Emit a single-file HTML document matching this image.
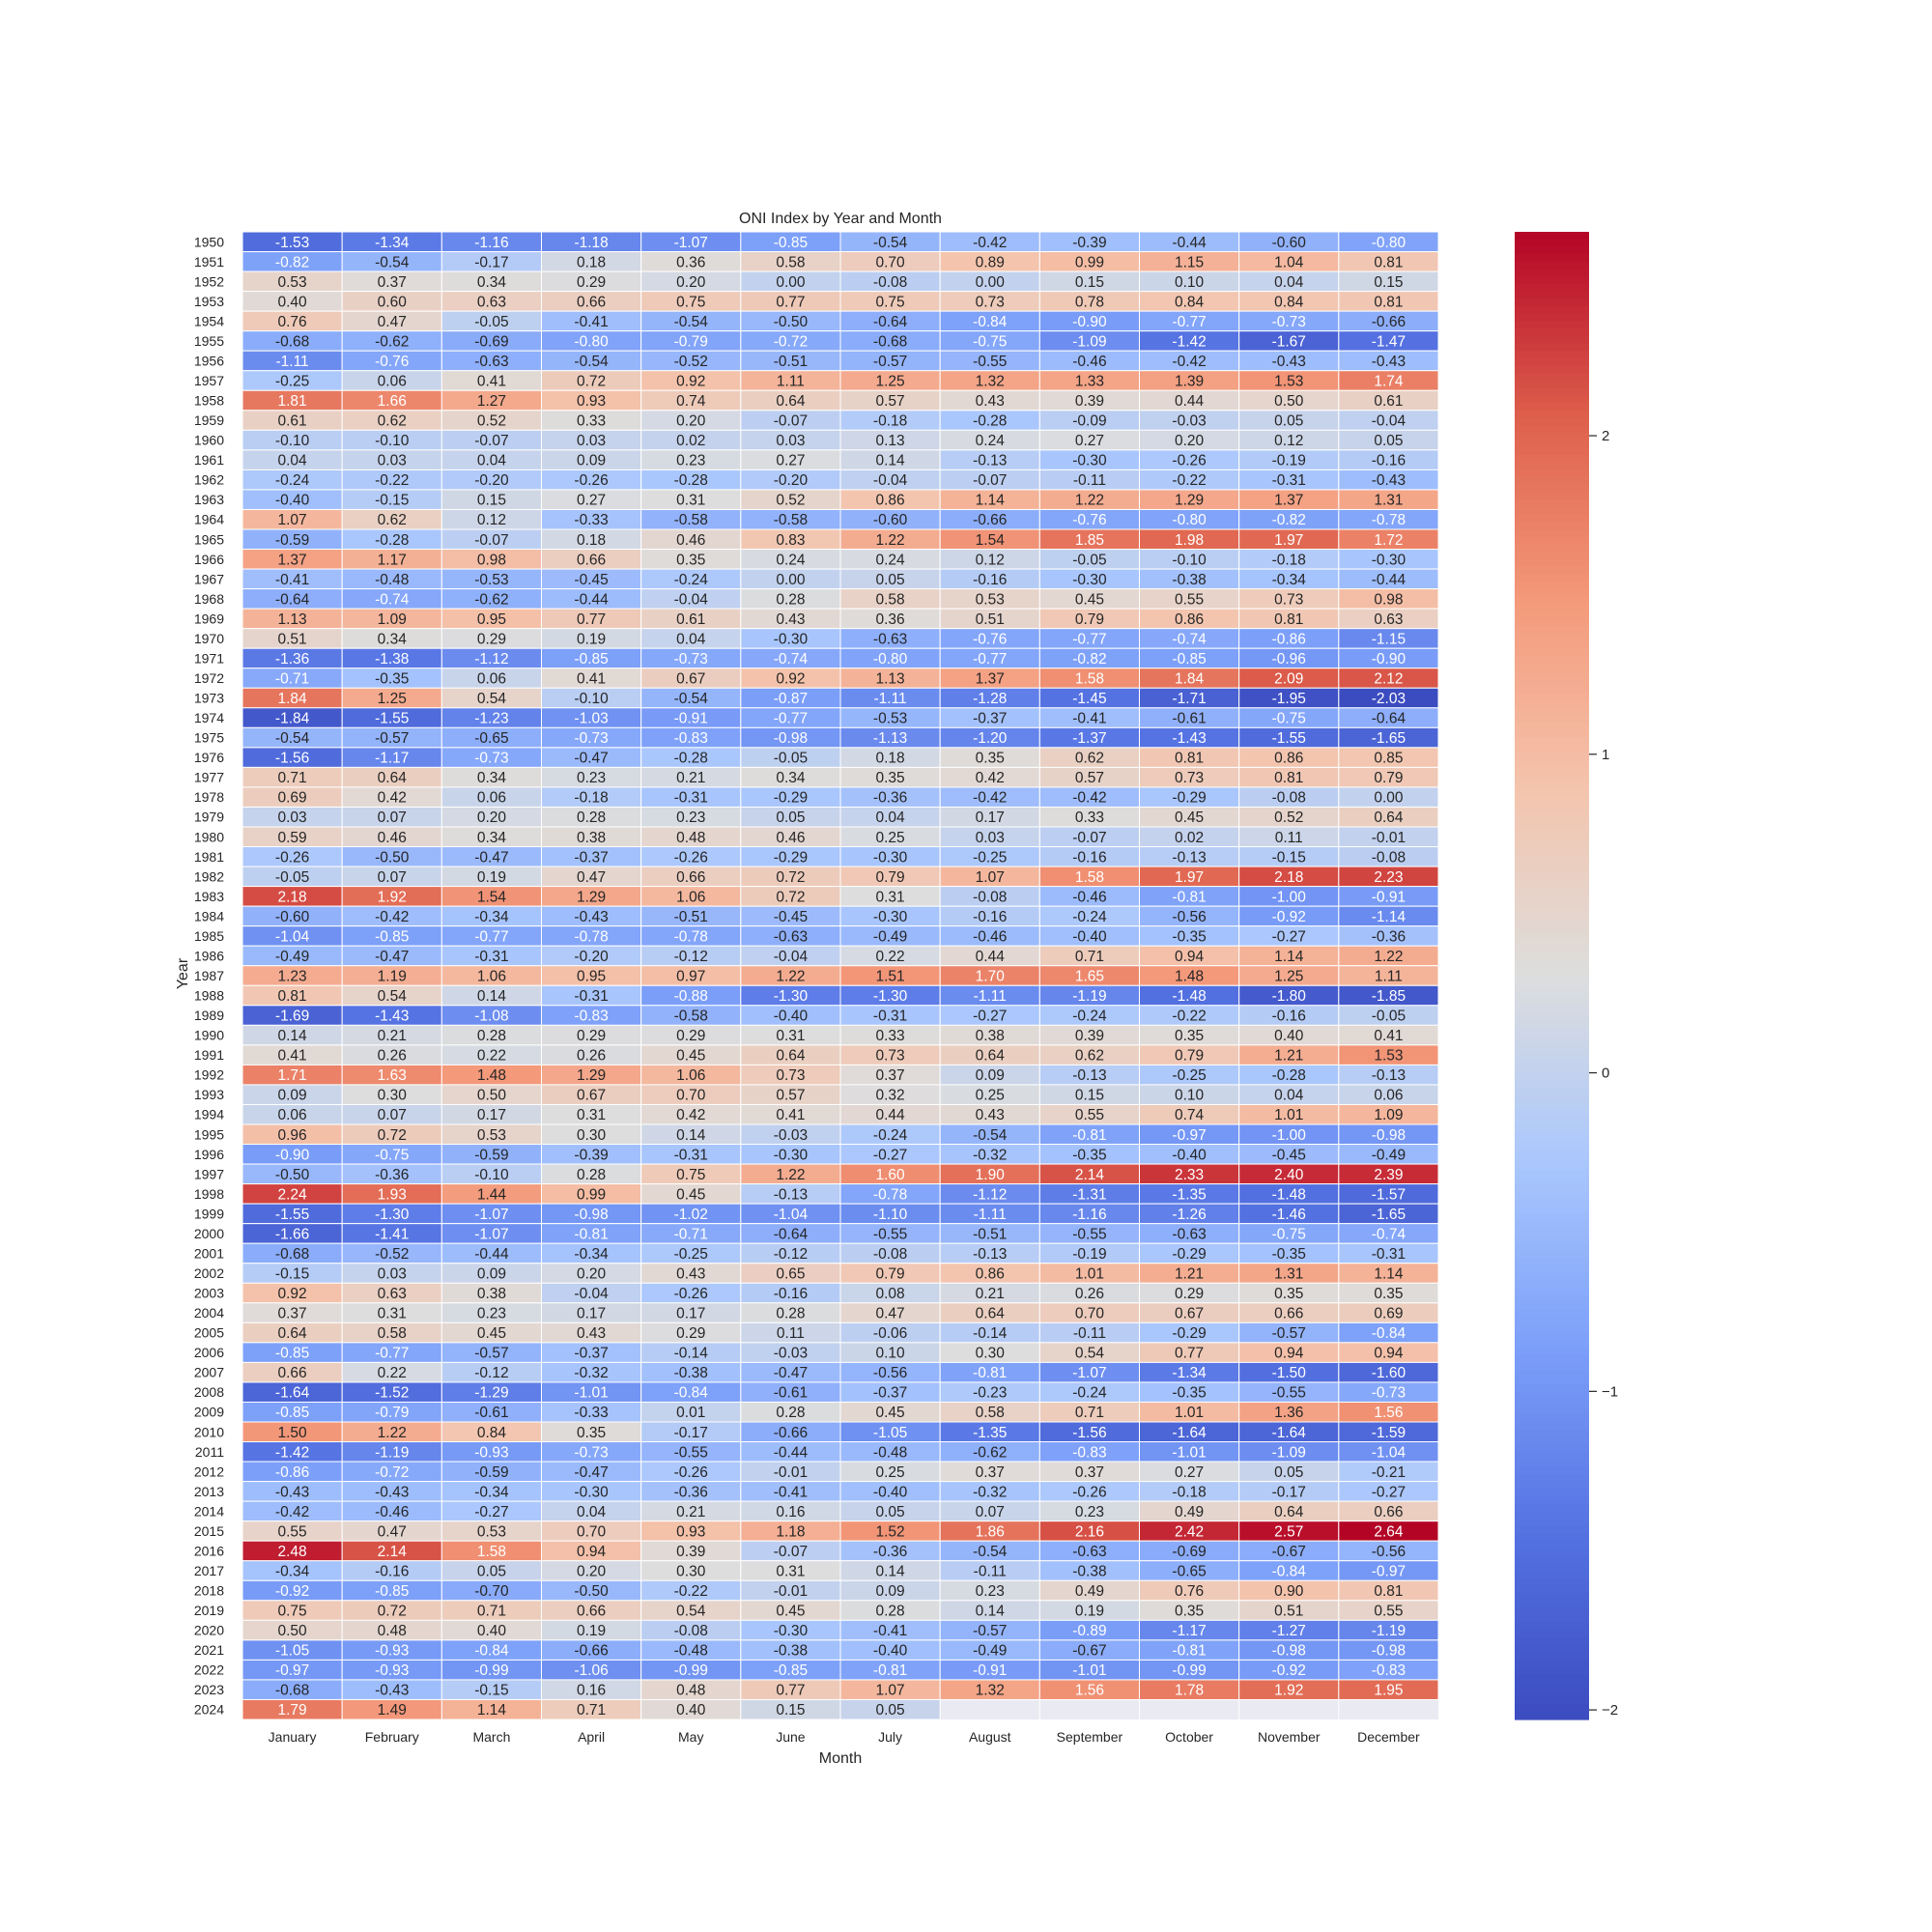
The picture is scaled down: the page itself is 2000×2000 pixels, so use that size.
<!DOCTYPE html>
<html><head><meta charset="utf-8"><style>
html,body{margin:0;padding:0;background:#fff;}
svg{display:block;font-family:"Liberation Sans",Arial,sans-serif;}
</style></head><body>
<svg id="chart" width="2000" height="2000" viewBox="0 0 2000 2000" xmlns="http://www.w3.org/2000/svg">
<rect width="2000" height="2000" fill="#fff"/>
<text x="870" y="231" font-size="16" text-anchor="middle" fill="#262626">ONI Index by Year and Month</text>
<text x="870" y="1825" font-size="16" text-anchor="middle" fill="#262626">Month</text>
<text x="194" y="1008" font-size="16" text-anchor="middle" fill="#262626" transform="rotate(-90 194 1008)">Year</text>
<g id="cells"></g>
<g id="ylabels"></g>
<g id="xlabels"></g>
<g id="cbar"></g>
</svg>
<script>
const months = ["January","February","March","April","May","June","July","August","September","October","November","December"];
const startYear = 1950;
const oni = [
[-1.53,-1.34,-1.16,-1.18,-1.07,-0.85,-0.54,-0.42,-0.39,-0.44,-0.60,-0.80],
[-0.82,-0.54,-0.17,0.18,0.36,0.58,0.70,0.89,0.99,1.15,1.04,0.81],
[0.53,0.37,0.34,0.29,0.20,0.00,-0.08,0.00,0.15,0.10,0.04,0.15],
[0.40,0.60,0.63,0.66,0.75,0.77,0.75,0.73,0.78,0.84,0.84,0.81],
[0.76,0.47,-0.05,-0.41,-0.54,-0.50,-0.64,-0.84,-0.90,-0.77,-0.73,-0.66],
[-0.68,-0.62,-0.69,-0.80,-0.79,-0.72,-0.68,-0.75,-1.09,-1.42,-1.67,-1.47],
[-1.11,-0.76,-0.63,-0.54,-0.52,-0.51,-0.57,-0.55,-0.46,-0.42,-0.43,-0.43],
[-0.25,0.06,0.41,0.72,0.92,1.11,1.25,1.32,1.33,1.39,1.53,1.74],
[1.81,1.66,1.27,0.93,0.74,0.64,0.57,0.43,0.39,0.44,0.50,0.61],
[0.61,0.62,0.52,0.33,0.20,-0.07,-0.18,-0.28,-0.09,-0.03,0.05,-0.04],
[-0.10,-0.10,-0.07,0.03,0.02,0.03,0.13,0.24,0.27,0.20,0.12,0.05],
[0.04,0.03,0.04,0.09,0.23,0.27,0.14,-0.13,-0.30,-0.26,-0.19,-0.16],
[-0.24,-0.22,-0.20,-0.26,-0.28,-0.20,-0.04,-0.07,-0.11,-0.22,-0.31,-0.43],
[-0.40,-0.15,0.15,0.27,0.31,0.52,0.86,1.14,1.22,1.29,1.37,1.31],
[1.07,0.62,0.12,-0.33,-0.58,-0.58,-0.60,-0.66,-0.76,-0.80,-0.82,-0.78],
[-0.59,-0.28,-0.07,0.18,0.46,0.83,1.22,1.54,1.85,1.98,1.97,1.72],
[1.37,1.17,0.98,0.66,0.35,0.24,0.24,0.12,-0.05,-0.10,-0.18,-0.30],
[-0.41,-0.48,-0.53,-0.45,-0.24,0.00,0.05,-0.16,-0.30,-0.38,-0.34,-0.44],
[-0.64,-0.74,-0.62,-0.44,-0.04,0.28,0.58,0.53,0.45,0.55,0.73,0.98],
[1.13,1.09,0.95,0.77,0.61,0.43,0.36,0.51,0.79,0.86,0.81,0.63],
[0.51,0.34,0.29,0.19,0.04,-0.30,-0.63,-0.76,-0.77,-0.74,-0.86,-1.15],
[-1.36,-1.38,-1.12,-0.85,-0.73,-0.74,-0.80,-0.77,-0.82,-0.85,-0.96,-0.90],
[-0.71,-0.35,0.06,0.41,0.67,0.92,1.13,1.37,1.58,1.84,2.09,2.12],
[1.84,1.25,0.54,-0.10,-0.54,-0.87,-1.11,-1.28,-1.45,-1.71,-1.95,-2.03],
[-1.84,-1.55,-1.23,-1.03,-0.91,-0.77,-0.53,-0.37,-0.41,-0.61,-0.75,-0.64],
[-0.54,-0.57,-0.65,-0.73,-0.83,-0.98,-1.13,-1.20,-1.37,-1.43,-1.55,-1.65],
[-1.56,-1.17,-0.73,-0.47,-0.28,-0.05,0.18,0.35,0.62,0.81,0.86,0.85],
[0.71,0.64,0.34,0.23,0.21,0.34,0.35,0.42,0.57,0.73,0.81,0.79],
[0.69,0.42,0.06,-0.18,-0.31,-0.29,-0.36,-0.42,-0.42,-0.29,-0.08,0.00],
[0.03,0.07,0.20,0.28,0.23,0.05,0.04,0.17,0.33,0.45,0.52,0.64],
[0.59,0.46,0.34,0.38,0.48,0.46,0.25,0.03,-0.07,0.02,0.11,-0.01],
[-0.26,-0.50,-0.47,-0.37,-0.26,-0.29,-0.30,-0.25,-0.16,-0.13,-0.15,-0.08],
[-0.05,0.07,0.19,0.47,0.66,0.72,0.79,1.07,1.58,1.97,2.18,2.23],
[2.18,1.92,1.54,1.29,1.06,0.72,0.31,-0.08,-0.46,-0.81,-1.00,-0.91],
[-0.60,-0.42,-0.34,-0.43,-0.51,-0.45,-0.30,-0.16,-0.24,-0.56,-0.92,-1.14],
[-1.04,-0.85,-0.77,-0.78,-0.78,-0.63,-0.49,-0.46,-0.40,-0.35,-0.27,-0.36],
[-0.49,-0.47,-0.31,-0.20,-0.12,-0.04,0.22,0.44,0.71,0.94,1.14,1.22],
[1.23,1.19,1.06,0.95,0.97,1.22,1.51,1.70,1.65,1.48,1.25,1.11],
[0.81,0.54,0.14,-0.31,-0.88,-1.30,-1.30,-1.11,-1.19,-1.48,-1.80,-1.85],
[-1.69,-1.43,-1.08,-0.83,-0.58,-0.40,-0.31,-0.27,-0.24,-0.22,-0.16,-0.05],
[0.14,0.21,0.28,0.29,0.29,0.31,0.33,0.38,0.39,0.35,0.40,0.41],
[0.41,0.26,0.22,0.26,0.45,0.64,0.73,0.64,0.62,0.79,1.21,1.53],
[1.71,1.63,1.48,1.29,1.06,0.73,0.37,0.09,-0.13,-0.25,-0.28,-0.13],
[0.09,0.30,0.50,0.67,0.70,0.57,0.32,0.25,0.15,0.10,0.04,0.06],
[0.06,0.07,0.17,0.31,0.42,0.41,0.44,0.43,0.55,0.74,1.01,1.09],
[0.96,0.72,0.53,0.30,0.14,-0.03,-0.24,-0.54,-0.81,-0.97,-1.00,-0.98],
[-0.90,-0.75,-0.59,-0.39,-0.31,-0.30,-0.27,-0.32,-0.35,-0.40,-0.45,-0.49],
[-0.50,-0.36,-0.10,0.28,0.75,1.22,1.60,1.90,2.14,2.33,2.40,2.39],
[2.24,1.93,1.44,0.99,0.45,-0.13,-0.78,-1.12,-1.31,-1.35,-1.48,-1.57],
[-1.55,-1.30,-1.07,-0.98,-1.02,-1.04,-1.10,-1.11,-1.16,-1.26,-1.46,-1.65],
[-1.66,-1.41,-1.07,-0.81,-0.71,-0.64,-0.55,-0.51,-0.55,-0.63,-0.75,-0.74],
[-0.68,-0.52,-0.44,-0.34,-0.25,-0.12,-0.08,-0.13,-0.19,-0.29,-0.35,-0.31],
[-0.15,0.03,0.09,0.20,0.43,0.65,0.79,0.86,1.01,1.21,1.31,1.14],
[0.92,0.63,0.38,-0.04,-0.26,-0.16,0.08,0.21,0.26,0.29,0.35,0.35],
[0.37,0.31,0.23,0.17,0.17,0.28,0.47,0.64,0.70,0.67,0.66,0.69],
[0.64,0.58,0.45,0.43,0.29,0.11,-0.06,-0.14,-0.11,-0.29,-0.57,-0.84],
[-0.85,-0.77,-0.57,-0.37,-0.14,-0.03,0.10,0.30,0.54,0.77,0.94,0.94],
[0.66,0.22,-0.12,-0.32,-0.38,-0.47,-0.56,-0.81,-1.07,-1.34,-1.50,-1.60],
[-1.64,-1.52,-1.29,-1.01,-0.84,-0.61,-0.37,-0.23,-0.24,-0.35,-0.55,-0.73],
[-0.85,-0.79,-0.61,-0.33,0.01,0.28,0.45,0.58,0.71,1.01,1.36,1.56],
[1.50,1.22,0.84,0.35,-0.17,-0.66,-1.05,-1.35,-1.56,-1.64,-1.64,-1.59],
[-1.42,-1.19,-0.93,-0.73,-0.55,-0.44,-0.48,-0.62,-0.83,-1.01,-1.09,-1.04],
[-0.86,-0.72,-0.59,-0.47,-0.26,-0.01,0.25,0.37,0.37,0.27,0.05,-0.21],
[-0.43,-0.43,-0.34,-0.30,-0.36,-0.41,-0.40,-0.32,-0.26,-0.18,-0.17,-0.27],
[-0.42,-0.46,-0.27,0.04,0.21,0.16,0.05,0.07,0.23,0.49,0.64,0.66],
[0.55,0.47,0.53,0.70,0.93,1.18,1.52,1.86,2.16,2.42,2.57,2.64],
[2.48,2.14,1.58,0.94,0.39,-0.07,-0.36,-0.54,-0.63,-0.69,-0.67,-0.56],
[-0.34,-0.16,0.05,0.20,0.30,0.31,0.14,-0.11,-0.38,-0.65,-0.84,-0.97],
[-0.92,-0.85,-0.70,-0.50,-0.22,-0.01,0.09,0.23,0.49,0.76,0.90,0.81],
[0.75,0.72,0.71,0.66,0.54,0.45,0.28,0.14,0.19,0.35,0.51,0.55],
[0.50,0.48,0.40,0.19,-0.08,-0.30,-0.41,-0.57,-0.89,-1.17,-1.27,-1.19],
[-1.05,-0.93,-0.84,-0.66,-0.48,-0.38,-0.40,-0.49,-0.67,-0.81,-0.98,-0.98],
[-0.97,-0.93,-0.99,-1.06,-0.99,-0.85,-0.81,-0.91,-1.01,-0.99,-0.92,-0.83],
[-0.68,-0.43,-0.15,0.16,0.48,0.77,1.07,1.32,1.56,1.78,1.92,1.95],
[1.79,1.49,1.14,0.71,0.40,0.15,0.05,null,null,null,null,null]
];
const cbarTicks = [-2,-1,0,1,2];

const NS="http://www.w3.org/2000/svg";
const L=251, T=240, R=1489, B=1780;
const nRows=oni.length, nCols=months.length;
const cw=(R-L)/nCols, rh=(B-T)/nRows;
let vmin=Infinity, vmax=-Infinity;
oni.forEach(r=>r.forEach(v=>{if(v!==null){vmin=Math.min(vmin,v);vmax=Math.max(vmax,v);}}));
const xPos=c=>L+c*cw;
const yPos=r=>T+r*rh;
const stops=[[0,59,76,192],[0.125,85,114,226],[0.25,124,159,249],[0.375,170,199,253],[0.5,221,221,221],[0.625,244,196,173],[0.75,244,154,123],[0.875,222,96,76],[1,180,4,38]];
function cmap(v){
  let t=(v-vmin)/(vmax-vmin); t=Math.max(0,Math.min(1,t));
  for(let i=1;i<stops.length;i++){ if(t<=stops[i][0]){ const a=stops[i-1],b=stops[i],f=(t-a[0])/(b[0]-a[0]);
    return [0,1,2].map(k=>Math.round(a[k+1]+f*(b[k+1]-a[k+1]))); } }
  return [180,4,38];
}
function lum(c){const l=c.map(x=>{x/=255;return x<=0.03928?x/12.92:Math.pow((x+0.055)/1.055,2.4);});return 0.2126*l[0]+0.7152*l[1]+0.0722*l[2];}
function mk(tag,attrs,parent){const e=document.createElementNS(NS,tag);for(const k in attrs)e.setAttribute(k,attrs[k]);parent.appendChild(e);return e;}

const cells=document.getElementById('cells');
mk('rect',{x:L,y:T,width:R-L,height:B-T,fill:'#EAEAF2'},cells);
for(let c=1;c<nCols;c++){mk('line',{x1:xPos(c),x2:xPos(c),y1:T,y2:B,stroke:'#fff','stroke-width':1},cells);}
for(let r=1;r<nRows;r++){mk('line',{x1:L,x2:R,y1:yPos(r),y2:yPos(r),stroke:'#fff','stroke-width':1},cells);}
oni.forEach((row,r)=>row.forEach((v,c)=>{
  if(v===null) return;
  const col=cmap(v);
  const rect=mk('rect',{x:xPos(c),y:yPos(r),width:cw,height:rh,fill:`rgb(${col})`,stroke:'#fff','stroke-width':1},cells);
  
  
  const tx=mk('text',{x:xPos(c)+cw/2,y:yPos(r)+rh/2+5.5,'font-size':15.5,'text-anchor':'middle',fill:lum(col)>0.408?'#262626':'#ffffff'},cells);
  tx.textContent=v.toFixed(2);
  
  
}));
const yl=document.getElementById('ylabels');
oni.forEach((row,r)=>{
  const t=mk('text',{x:L-19,y:yPos(r)+rh/2+5,'font-size':14,'text-anchor':'end',fill:'#262626'},yl);
  t.textContent=startYear+r;
  
  
});
const xl=document.getElementById('xlabels');
months.forEach((m,c)=>{
  const t=mk('text',{x:xPos(c)+cw/2,y:1803,'font-size':14,'text-anchor':'middle',fill:'#262626'},xl);
  t.textContent=m;
  
  
});
const cb=document.getElementById('cbar');
const CX=1568, CW=77;
const cbY=v=>T+(vmax-v)/(vmax-vmin)*(B-T);
const N=200;
for(let i=0;i<N;i++){const v=vmax-(i+0.5)*(vmax-vmin)/N;const y0=T+i*(B-T)/N;
  mk('rect',{x:CX,y:y0,width:CW,height:(B-T)/N+0.6,fill:`rgb(${cmap(v)})`},cb);}
cbarTicks.forEach(v=>{
  const y=cbY(v);
  mk('line',{x1:CX+CW,x2:CX+CW+8,y1:y,y2:y,stroke:'#262626','stroke-width':1.2},cb);
  const t=mk('text',{x:CX+CW+13,y:y+5,'font-size':15,fill:'#262626'},cb);
  t.textContent=(v<0?'\u2212':'')+Math.abs(v);
  
  
});
</script>
</body></html>
